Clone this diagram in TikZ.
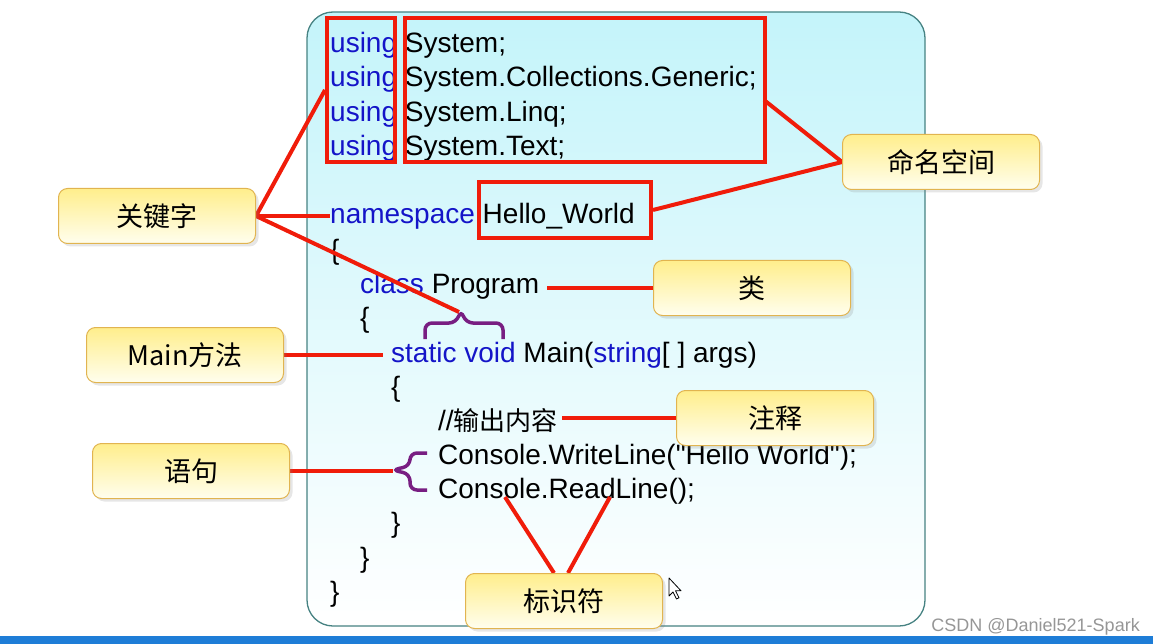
\documentclass[tikz,border=0pt]{standalone}
\usepackage{fontspec}
\setmainfont{Liberation Sans}
\newfontfamily\codefont{Liberation Sans}
\newfontfamily\cjk{Noto Sans CJK SC}
\usetikzlibrary{shadows,calc}
\definecolor{kwblue}{RGB}{20,20,200}
\definecolor{hlred}{RGB}{240,28,10}
\definecolor{brpurple}{RGB}{120,30,130}
\definecolor{panelcyan}{RGB}{196,244,250}
\definecolor{panelborder}{RGB}{70,130,130}
\definecolor{labtop}{RGB}{255,238,140}
\definecolor{labbot}{RGB}{255,254,238}
\definecolor{labborder}{RGB}{225,180,80}
\definecolor{barblue}{RGB}{30,125,215}
\definecolor{wmgray}{RGB}{150,150,150}
\newcommand\kwc[1]{\textcolor{kwblue}{#1}}
\pgfdeclarelayer{tags}
\pgfsetlayers{main,tags}
\begin{document}
\begin{tikzpicture}[x=1pt,y=-1pt,
  codeline/.style={anchor=base west, inner sep=0pt, font=\codefont\fontsize{28}{30}\selectfont},
  redbox/.style={draw=hlred, line width=4pt, inner sep=0pt},
  redline/.style={draw=hlred, line width=4pt},
  pbrace/.style={draw=brpurple, line width=3.5pt, rounded corners=7pt},
  tag/.style={draw=labborder, line width=1pt, rounded corners=9pt, top color=labtop, bottom color=labbot,
    minimum width=197pt, minimum height=55pt, inner sep=0pt, font=\cjk\fontsize{27}{30}\selectfont,
    drop shadow={opacity=0.2, shadow xshift=3pt, shadow yshift=-3pt}},
]
\useasboundingbox (0,0) rectangle (1153,644);
% panel
\draw[panelborder, line width=1.3pt, rounded corners=26pt, top color=panelcyan, bottom color=white]
  (307,12) rectangle (925,626);
% bottom bar
\fill[barblue] (0,636) rectangle (1153,644);
% code
\node[codeline] (c1) at (330,53) {\kwc{using} System;};
\node[codeline] (c2) at (330,87) {\kwc{using} System.Collections.Generic;};
\node[codeline] (c3) at (330,122) {\kwc{using} System.Linq;};
\node[codeline] (c4) at (330,156) {\kwc{using} System.Text;};
\node[codeline] (c5) at (330,224) {\kwc{namespace} Hello\_World};
\node[codeline] (c6) at (330,259) {\{};
\node[codeline] (c7) at (360,293) {\kwc{class} Program};
\node[codeline] (c8) at (360,327) {\{};
\node[codeline] (c9) at (391,362) {\kwc{static void} Main(\kwc{string}[ ] args)};
\node[codeline] (c10) at (391,396) {\{};
\node[codeline] (c11) at (438,430) {//{\cjk\fontsize{26}{30}\selectfont 输出内容}};
\node[codeline] (c12) at (438,464) {Console.WriteLine("Hello World");};
\node[codeline] (c13) at (438,498) {Console.ReadLine();};
\node[codeline] (c14) at (391,532) {\}};
\node[codeline] (c15) at (360,567) {\}};
\node[codeline] (c16) at (330,601) {\}};
% red boxes
\node[redbox, minimum width=68pt, minimum height=144pt] (ub) at (361,90) {};
\node[redbox, minimum width=360pt, minimum height=144pt] (sb) at (585,90) {};
\node[redbox, minimum width=172pt, minimum height=56pt] (hb) at (565,210) {};
% braces
\draw[pbrace] (425,339) -- (425,323) -- (456,323) -- (461,310) -- (466,323) -- (503,323) -- (503,339);
\draw[pbrace] (427,453) -- (410,453) -- (410,466) -- (392,470) -- (410,474) -- (410,490) -- (427,490);
\coordinate (btip) at (459,312);
\coordinate (stip) at (393,470);
\coordinate (i1) at (505,497);
\coordinate (i2) at (610,497);
% labels
\begin{pgfonlayer}{tags}
\node[tag] (kwl) at (157,216) {关键字};
\node[tag] (nsl) at (941,162) {命名空间};
\node[tag] (clsl) at (752,288) {类};
\node[tag] (mainl) at (185,355) {Main方法};
\node[tag] (cmtl) at (775,418) {注释};
\node[tag] (stmtl) at (191,471) {语句};
\node[tag] (idl) at (564,601) {标识符};
\end{pgfonlayer}
% connectors
\coordinate (pe) at ([xshift=8pt]c7.east);
\coordinate (ms) at ([xshift=-8pt]c9.west);
\coordinate (ce) at ([xshift=4pt]c11.east);
\draw[redline] (kwl.east) -- (ub.west);
\draw[redline] (kwl.east) -- (kwl.east -| c5.west);
\draw[redline] (kwl.east) -- (btip);
\draw[redline] (nsl.west) -- ($(sb.east)+(-3,10)$);
\draw[redline] (nsl.west) -- (hb.east);
\draw[redline] (clsl.west) -- (clsl.west -| pe);
\draw[redline] (mainl.east) -- (mainl.east -| ms);
\draw[redline] (cmtl.west) -- (cmtl.west -| ce);
\draw[redline] (stmtl.east) -- (stmtl.east -| stip);
\draw[redline] ([xshift=-10pt]idl.north) -- (i1);
\draw[redline] ([xshift=4pt]idl.north) -- (i2);
% watermark and cursor
\node[anchor=base east, text=wmgray, inner sep=0pt, font=\fontsize{18}{20}\selectfont] (wm) at (1140,631) {CSDN @Daniel521-Spark};
\draw[black, fill=white, line width=0.8pt, line join=round] (669,578) -- ++(0,18) -- ++(4,-4) -- ++(3.5,7) -- ++(2.5,-1.2) -- ++(-3.5,-7) -- ++(5.5,0) -- cycle;
\end{tikzpicture}
\end{document}
